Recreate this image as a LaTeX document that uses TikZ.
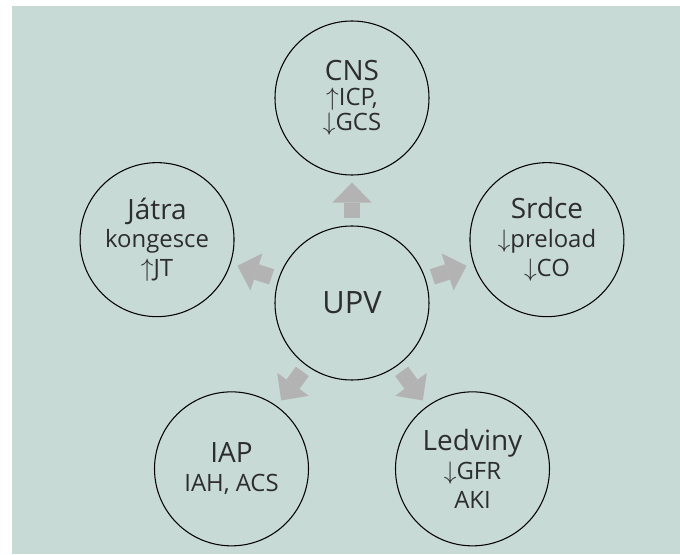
\documentclass[tikz,border=0pt]{standalone}
\usepackage{fontspec}
\setmainfont{Open Sans}
\usetikzlibrary{arrows.meta, positioning}
\definecolor{cBack}{RGB}{199,218,213}
\definecolor{cArrow}{RGB}{179,179,179}
\definecolor{cText}{RGB}{45,45,45}
\tikzset{
	organ/.style ={circle, draw=black, line width=0.6pt, minimum size=3.08cm, inner sep=0pt, align=center, text=cText, font=\fontsize{13.6}{16.4}\selectfont},
	hub/.style   ={organ, font=\fontsize{17.5}{20}\selectfont},
	effect/.style={-{Triangle[width=0.78cm, length=0.4cm, line width=0pt]}, line width=0.32cm, draw=cArrow, fill=cArrow, shorten <=0.14cm, shorten >=0.14cm},
}
\newcommand{\organname}[1]{{\fontsize{15.9}{16.4}\selectfont #1}}

\begin{document}
\begin{tikzpicture}
	\useasboundingbox (-7.04,-5.02) rectangle (6.56,6.06);
	\fill[cBack] (-6.8,-5.02) rectangle (6.56,5.94);

	\node[hub] (upv) at (0,0) {UPV};
	\node[organ, font=\fontsize{13.6}{14.4}\selectfont] (cns) at (90:4.1) {\organname{CNS}\\ $\uparrow$ICP,\\ $\downarrow$GCS};
	\node[organ] (srdce) at (18:4.1) {\organname{Srdce}\\ $\downarrow$preload\\ $\downarrow$CO};
	\node[organ] (ledviny) at (-54:4.1) {\organname{Ledviny}\\ $\downarrow$GFR\\ AKI};
	\node[organ] (iap) at (-126:4.1) {\organname{IAP}\\ IAH, ACS};
	\node[organ] (jatra) at (162:4.1) {\organname{Játra}\\ kongesce\\ $\uparrow$JT};

	\foreach \t in {cns, srdce, ledviny, iap, jatra}
		\draw[effect] (upv) -- (\t);
\end{tikzpicture}
\end{document}
